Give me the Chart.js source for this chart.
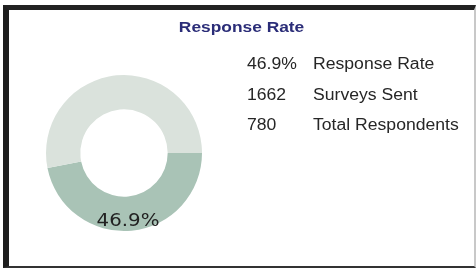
<!DOCTYPE html>
<html>
<head>
<meta charset="utf-8">
<script src="https://cdn.jsdelivr.net/npm/chart.js@4"></script>
<style>
  html,body{margin:0;padding:0;background:#fff;width:476px;height:268px;overflow:hidden;}
  #top{position:absolute;left:0;top:-17px;width:476px;height:22px;overflow:hidden;font:bold 15px "Liberation Sans",Arial,sans-serif;color:#2b2d78;}
  #top span{position:absolute;top:0;}
  #frame{position:absolute;left:3px;top:5px;width:465px;height:256px;border-left:6px solid #1e1e1e;border-top:5px solid #222;border-bottom:2px solid #333;border-right:2px solid #c8c8c8;}
  #title{position:absolute;left:0;width:465px;top:8px;text-align:center;font:bold 15.5px "Liberation Sans",Arial,sans-serif;color:#2b2d78;transform:scaleX(1.12);transform-origin:232px 0;}
  canvas{position:absolute;left:0;top:0;}
  .row{position:absolute;font:16px "Liberation Sans",Arial,sans-serif;color:#262626;transform:scaleX(1.1);transform-origin:0 0;white-space:nowrap;}
</style>
</head>
<body>
<div id="top"><span style="left:-7px">Survey</span><span style="left:142px">Activity</span></div>
<div id="frame">
  <canvas id="c" width="465" height="256"></canvas>
  <div id="title"></div>
  <div id="stats"></div>
</div>
<script>
const chartTitle = "Response Rate";
const categories = ["Responded", "Not Responded"];
const values = [46.9, 53.1];
const centerLabel = "46.9%";
const statValues = ["46.9%", "1662", "780"];
const statLabels = ["Response Rate", "Surveys Sent", "Total Respondents"];

document.getElementById('title').textContent = chartTitle;
const stats = document.getElementById('stats');
const rowTops = [45, 76, 106];
statValues.forEach((v, i) => {
  const a = document.createElement('div');
  a.className = 'row'; a.style.left = '238px'; a.style.top = rowTops[i] + 'px'; a.textContent = v;
  const b = document.createElement('div');
  b.className = 'row'; b.style.left = '304px'; b.style.top = rowTops[i] + 'px'; b.textContent = statLabels[i];
  stats.appendChild(a); stats.appendChild(b);
});

const labelPlugin = {
  id: 'centerLabel',
  afterDatasetsDraw(chart) {
    const arc = chart.getDatasetMeta(0).data[0];
    if (!arc) return;
    const ctx = chart.ctx;
    ctx.save();
    ctx.translate(arc.x + 4, arc.y + arc.outerRadius * 0.875);
    ctx.scale(1.1, 1);
    ctx.font = '18px "DejaVu Sans", sans-serif';
    ctx.fillStyle = '#222';
    ctx.textAlign = 'center';
    ctx.textBaseline = 'middle';
    ctx.fillText(centerLabel, 0, 0);
    ctx.restore();
  }
};

new Chart(document.getElementById('c'), {
  type: 'doughnut',
  data: {
    labels: categories,
    datasets: [{
      data: values,
      backgroundColor: ['#a9c3b6', '#dae2dc'],
      borderWidth: 0
    }]
  },
  options: {
    responsive: false,
    animation: false,
    rotation: 90,
    cutout: '56%',
    layout: { padding: { left: 37, right: 272, top: 65, bottom: 35 } },
    plugins: { legend: { display: false }, tooltip: { enabled: false }, title: { display: false } }
  },
  plugins: [labelPlugin]
});
</script>
</body>
</html>
